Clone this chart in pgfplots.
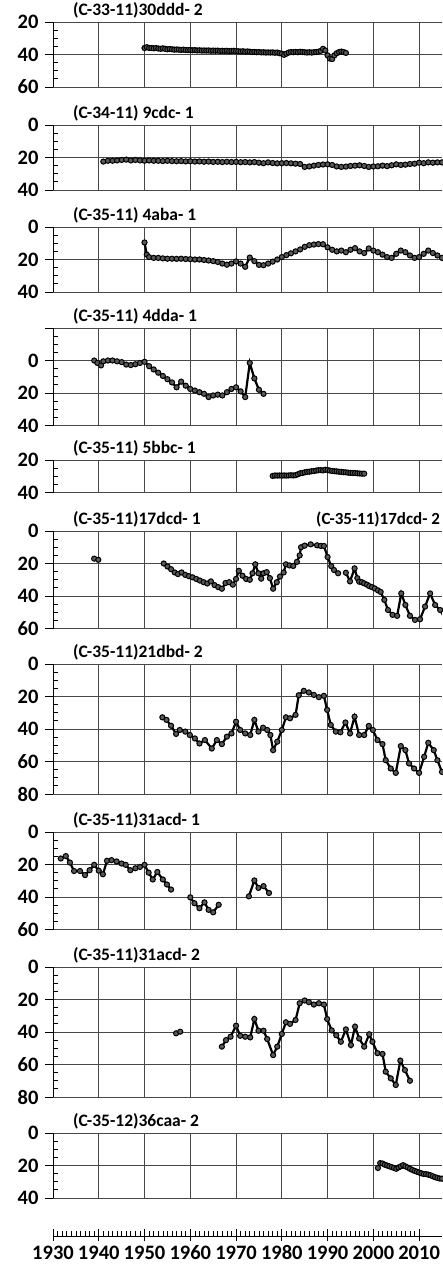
\documentclass[border=0pt]{standalone}
\usepackage{fontspec}
\setmainfont{Carlito}
\usepackage{pgfplots}
\pgfplotsset{compat=1.18}

\pgfplotsset{
 dat/.style={black, line width=2.2pt, mark=*, mark size=2.6pt, mark options={fill=black!65, draw=black, line width=1pt}},
 panel/.style={
  scale only axis, width=389pt,
  xmin=1930, xmax=2015, y dir=reverse,
  anchor=north west,
  axis lines*=left,
  x axis line style={draw=none},
  xtick={1930,1940,...,2010}, xticklabels={},
  major x tick style={draw=none},
  y axis line style={black, line width=0.9pt},
  grid=major,
  major grid style={black!72, line width=0.8pt},
  minor y tick num=3,
  tick align=inside,
  major tick length=8pt, minor tick length=5pt,
  major y tick style={xshift=-8pt, black, line width=0.8pt},
  minor y tick style={black, line width=0.8pt},
  yticklabel style={font=\fontsize{20.5}{20}\selectfont\bfseries, xshift=-11pt},
  /pgf/number format/assume math mode=true,
  every axis title/.style={at={(0,1)}, anchor=base west, xshift=20pt, yshift=7pt, inner sep=0pt, font=\fontsize{17.5}{17}\selectfont\bfseries},
 }
}

\begin{document}
\begin{tikzpicture}
\useasboundingbox (0,0) rectangle (442pt,-1272pt);

% Panel 1
\begin{axis}[panel, at={(53pt,-22pt)}, height=65pt, ymin=20, ymax=60, ytick={20,40,60}, title={(C-33-11)30ddd- 2}]
\addplot[dat] coordinates {(1950,36) (1950.5,35.5) (1951,36) (1951.5,36) (1952,36.2) (1952.5,36) (1953,36.3) (1953.5,36.5) (1954,36.2) (1954.5,36.5) (1955,36.8) (1955.5,36.6) (1956,36.8) (1956.5,37) (1957,36.9) (1957.5,37) (1958,37.2) (1958.5,37) (1959,37.2) (1959.5,37.3) (1960,37.2) (1960.5,37.4) (1961,37.3) (1961.5,37.5) (1962,37.4) (1962.5,37.6) (1963,37.5) (1963.5,37.6) (1964,37.5) (1964.5,37.7) (1965,37.6) (1965.5,37.7) (1966,37.6) (1966.5,37.8) (1967,37.7) (1967.5,37.8) (1968,37.7) (1968.5,37.9) (1969,37.8) (1969.5,37.7) (1970,37.9) (1970.5,38) (1971,38.2) (1971.5,38) (1972,38.3) (1972.5,38.1) (1973,38.3) (1973.5,38.5) (1974,38.4) (1974.5,38.6) (1975,38.5) (1975.5,38.7) (1976,38.6) (1976.5,38.8) (1977,38.7) (1977.5,38.8) (1978,38.7) (1978.5,38.9) (1979,38.8) (1979.5,39.2) (1980,39.5) (1980.5,40.2) (1981,39.5) (1981.5,38.8) (1982,38.5) (1982.5,38.6) (1983,38.4) (1983.5,38.6) (1984,38.3) (1984.5,38.5) (1985,38.6) (1985.5,38.8) (1986,38.6) (1986.5,38.8) (1987,38.6) (1987.5,38.5) (1988,38.3) (1988.5,37.8) (1989,36.5) (1989.5,37.5) (1990,40.5) (1990.5,42.5) (1991,42.8) (1991.5,40.5) (1992,39.2) (1992.5,38.5) (1993,38.2) (1993.5,38.5) (1994,39)};
\end{axis}

% Panel 2
\begin{axis}[panel, at={(53pt,-125pt)}, height=65pt, ymin=0, ymax=40, ytick={0,20,40}, title={(C-34-11) 9cdc- 1}]
\addplot[dat] coordinates {(1941,22.5) (1942,22) (1943,22) (1944,21.8) (1945,21.5) (1946,21.3) (1947,21.8) (1948,21.5) (1949,21.8) (1950,22) (1951,21.8) (1952,22) (1953,22) (1954,22.2) (1955,22) (1956,22.2) (1957,22.3) (1958,22.2) (1959,22.4) (1960,22.3) (1961,22.5) (1962,22.4) (1963,22.6) (1964,22.5) (1965,22.7) (1966,22.6) (1967,22.8) (1968,22.6) (1969,22.8) (1970,22.7) (1971,22.9) (1972,22.8) (1973,23) (1974,22.8) (1975,23.2) (1976,23.5) (1977,23) (1978,23.4) (1979,23.6) (1980,23.5) (1981,23.4) (1982,23.6) (1983,23.8) (1984,24) (1985,25.8) (1986,25.5) (1987,25) (1988,24.6) (1989,24.3) (1990,24.2) (1991,24.6) (1992,25.5) (1993,25.8) (1994,25.6) (1995,25.2) (1996,25) (1997,24.8) (1998,25.2) (1999,25.8) (2000,25.5) (2001,25.4) (2002,25) (2003,25.3) (2004,24.8) (2005,24.2) (2006,24.6) (2007,24.4) (2008,24) (2009,23.8) (2010,23.2) (2011,23.5) (2012,23) (2013,23.2) (2014,23) (2015,23)};
\end{axis}

% Panel 3
\begin{axis}[panel, at={(53pt,-227pt)}, height=65pt, ymin=0, ymax=40, ytick={0,20,40}, title={(C-35-11) 4aba- 1}]
\addplot[dat] coordinates {(1950,9.5) (1950.5,17) (1951,18.5) (1952,19) (1953,19) (1954,19.3) (1955,19.5) (1956,19.5) (1957,19.6) (1958,19.5) (1959,19.7) (1960,19.8) (1961,20) (1962,20) (1963,20.3) (1964,20.6) (1965,21) (1966,21.5) (1967,22.5) (1968,23.2) (1969,22.5) (1970,21.2) (1971,22.5) (1972,24.5) (1973,18.8) (1974,21) (1975,23.3) (1976,23.5) (1977,22.5) (1978,21.3) (1979,20) (1980,18.5) (1981,17.3) (1982,16.2) (1983,15) (1984,13.8) (1985,12.2) (1986,11.2) (1987,10.8) (1988,10.5) (1989,10.6) (1990,12.5) (1991,14) (1992,15) (1993,14.5) (1994,15.5) (1995,14) (1996,13) (1997,15) (1998,16) (1999,13.2) (2000,14.5) (2001,15.5) (2002,17) (2003,18.5) (2004,19) (2005,16.5) (2006,14.5) (2007,15.5) (2008,17.5) (2009,19) (2010,18.5) (2011,16.5) (2012,14.5) (2013,16) (2014,17.5) (2015,19)};
\end{axis}

% Panel 4
\begin{axis}[panel, at={(53pt,-328pt)}, height=97.5pt, ymin=-20, ymax=40, ytick={-20,0,20,40}, yticklabels={,0,20,40}, title={(C-35-11) 4dda- 1}]
\addplot[dat] coordinates {(1939,0) (1939.7,1.5) (1940.5,3) (1941,0.5) (1942,0) (1943,0) (1944,0.5) (1945,1) (1946,2.5) (1947,2.8) (1948,2.3) (1949,1.5) (1950,0.8) (1951,3.5) (1952,5.5) (1953,7.5) (1954,9.5) (1955,11.5) (1956,13.5) (1957,16.5) (1958,13) (1959,15.5) (1960,17.5) (1961,18.5) (1962,19.5) (1963,20.5) (1964,22.5) (1965,21.5) (1966,21) (1967,21.5) (1968,19.5) (1969,17.5) (1970,16.5) (1971,19) (1972,22.5) (1973,1.5) (1974,11) (1975,18) (1976,20.5)};
\end{axis}

% Panel 5
\begin{axis}[panel, at={(53pt,-460pt)}, height=32.5pt, ymin=20, ymax=40, ytick={20,40}, title={(C-35-11) 5bbc- 1}]
\addplot[dat] coordinates {(1978,29.8) (1978.5,29.5) (1979,29.6) (1979.5,29.5) (1980,29.6) (1980.5,29.5) (1981,29.6) (1981.5,29.5) (1982,29.4) (1982.5,29.5) (1983,29.3) (1983.5,28.8) (1984,28.2) (1984.5,28) (1985,27.6) (1985.5,27.3) (1986,27.2) (1986.5,26.9) (1987,26.8) (1987.5,26.5) (1988,26.3) (1988.5,26.2) (1989,26.4) (1989.5,26) (1990,26.2) (1990.5,26.5) (1991,26.7) (1991.5,26.9) (1992,27) (1992.5,27.2) (1993,27.3) (1993.5,27.5) (1994,27.6) (1994.5,27.8) (1995,27.9) (1995.5,28) (1996,28) (1996.5,28.2) (1997,28.3) (1997.5,28.4) (1998,28.4)};
\end{axis}

% Panel 6
\begin{axis}[panel, at={(53pt,-531pt)}, height=97.5pt, ymin=0, ymax=60, ytick={0,20,40,60}, title={(C-35-11)17dcd- 1}]
\addplot[dat] coordinates {(1939,17) (1939.9,17.7)};
\addplot[dat] coordinates {(1954.2,20) (1955,21.8) (1955.8,23.5) (1956.6,25.5) (1957.3,26.5) (1958.1,25.5) (1958.9,27) (1959.7,27.8) (1960.5,28.5) (1961.3,29.5) (1962.1,30.5) (1962.9,31.5) (1963.7,32.3) (1964.5,31) (1965.3,33.3) (1966.1,34.5) (1966.9,35.5) (1967.7,32) (1968.5,31.5) (1969.3,33) (1970,29.5) (1970.6,24.5) (1971.4,27.5) (1972.2,29.5) (1973,30) (1973.6,26) (1974.2,20.5) (1974.9,26) (1975.5,29.3) (1976,26) (1976.7,25.3) (1977.4,29) (1978.1,35.5) (1978.9,31.5) (1979.6,28) (1980.4,25.5) (1980.9,20.5) (1981.7,21.2) (1982.5,21.5) (1983.3,19) (1983.9,15) (1984.2,10) (1985,9) (1986.3,8.2) (1987.7,8.8) (1988.5,9.2) (1989.2,9.2) (1990,16) (1990.8,21.6) (1991.4,24) (1992.3,26)};
\addplot[dat] coordinates {(1994,25.7) (1994.9,31) (1995.9,23) (1996.5,29) (1996.9,31.2) (1997.5,31.5) (1998,32.2) (1998.6,33) (1999.1,33.9) (1999.7,34.5) (2000.3,35.3) (2001,36.5) (2001.6,37.5) (2002.4,42.4) (2003.2,48.6) (2004.2,51.6) (2005.2,52.2) (2006.1,38.4) (2007,45.5) (2008,52.2) (2009.1,54.7) (2010.2,54.3) (2011.3,46.5) (2012.4,38.4) (2013.5,45.5) (2014.6,48.6) (2015.3,52.2)};
\end{axis}
\node[anchor=base west, inner sep=0pt, font=\fontsize{17}{17}\selectfont\bfseries] at (316pt,-524pt) {(C-35-11)17dcd- 2};

% Panel 7
\begin{axis}[panel, at={(53pt,-664pt)}, height=130pt, ymin=0, ymax=80, ytick={0,20,40,60,80}, title={(C-35-11)21dbd- 2}]
\addplot[dat] coordinates {(1953.9,32.8) (1954.8,34.4) (1955.8,38) (1956.9,43) (1957.7,40.6) (1958.9,41.6) (1959.9,43.7) (1961,45.8) (1962,48.9) (1963.2,46.8) (1964.7,52) (1965.8,46.8) (1966.9,49.3) (1968,44.7) (1969,42.7) (1970,35.5) (1970.9,40.6) (1972,42.7) (1973.1,43.7) (1974,34.4) (1974.9,41.6) (1975.9,39.2) (1976.8,40.6) (1977.5,43.7) (1978.1,53) (1979,47.8) (1980,40.6) (1980.9,32.8) (1981.8,33.4) (1983,31.3) (1983.7,19.2) (1984.8,16.5) (1985.9,17.5) (1987,19) (1988.1,20.4) (1989.2,19.6) (1989.9,28.2) (1990.7,37.5) (1991.8,41.6) (1992.8,42) (1993.9,36) (1994.9,42.7) (1995.9,32.4) (1996.9,43.7) (1998,43.7) (1999,38.1) (1999.9,40.6) (2000.9,46.8) (2002,49.3) (2002.7,59.2) (2003.8,64.3) (2004.9,67) (2006,50.5) (2007,53) (2007.8,61.2) (2008.9,64.3) (2010,67) (2011.1,57.1) (2012,48.5) (2013.2,53) (2014,59.2) (2015,66.4)};
\end{axis}

% Panel 8
\begin{axis}[panel, at={(53pt,-832pt)}, height=97.5pt, ymin=0, ymax=60, ytick={0,20,40,60}, title={(C-35-11)31acd- 1}]
\addplot[dat] coordinates {(1931.7,16.3) (1932.8,14.8) (1933.7,18.8) (1934.6,24) (1935.9,24) (1937,26.5) (1938,23.5) (1939,20.2) (1940,23.8) (1940.9,26) (1941.8,17.7) (1942.8,17.3) (1943.9,18.1) (1945,19.4) (1945.9,20.2) (1946.9,23.5) (1948,22.3) (1949,21.5) (1950,20.2) (1950.9,25) (1951.8,29.2) (1952.8,24.6) (1954,29.2) (1954.9,32.3) (1955.8,35.4)};
\addplot[dat] coordinates {(1960,40.2) (1960.9,43.8) (1962,46.9) (1963.1,43.3) (1964,47.9) (1965,49.4) (1966.2,44.8)};
\addplot[dat] coordinates {(1972.8,39.6) (1974,29.8) (1974.9,34.4) (1976,33.3) (1977.2,37.5)};
\end{axis}

% Panel 9
\begin{axis}[panel, at={(53pt,-967pt)}, height=130pt, ymin=0, ymax=80, ytick={0,20,40,60,80}, title={(C-35-11)31acd- 2}]
\addplot[dat] coordinates {(1956.9,40.8) (1957.8,39.8)};
\addplot[dat] coordinates {(1966.9,49) (1967.8,45) (1968.8,42.9) (1970,36.1) (1970.9,42.3) (1972,42.9) (1973.1,43.3) (1974,32) (1974.9,39.2) (1976,39.2) (1976.8,44.3) (1978.1,54.2) (1979,49) (1980,41.2) (1980.9,34) (1981.8,35) (1983,32.6) (1983.9,22.3) (1985,20.6) (1985.9,21.6) (1987,23.1) (1988.1,22.3) (1989.2,23.1) (1989.9,32) (1990.9,39) (1991.9,42) (1992.9,46) (1994,38.4) (1995.1,48) (1996,36.7) (1996.9,44) (1998,49) (1999.1,41.4) (1999.8,46) (2000.9,53) (2002,53.5) (2002.7,64.4) (2003.8,68.5) (2004.9,72.6) (2005.9,57.6) (2006.9,63.4) (2008,70)};
\end{axis}

% Panel 10
\begin{axis}[panel, at={(53pt,-1133pt)}, height=65pt, ymin=0, ymax=40, ytick={0,20,40}, title={(C-35-12)36caa- 2}]
\addplot[dat] coordinates {(2001,21.5) (2001.5,18.5) (2002,18.8) (2002.5,19.5) (2003,20) (2003.5,20.5) (2004,21) (2004.5,21.5) (2005,22) (2005.5,21.2) (2006,20.5) (2006.5,19.8) (2007,20.5) (2007.5,21.2) (2008,22) (2008.5,22.7) (2009,23.3) (2009.5,23.8) (2010,24.3) (2010.5,24.8) (2011,25.2) (2011.5,25.3) (2012,25.6) (2012.5,26) (2013,26.6) (2013.5,27.2) (2014,27.6) (2014.5,28) (2015,28.1)};
\end{axis}

% Bottom time axis
\begin{axis}[at={(53pt,-1236pt)}, anchor=south west, scale only axis, width=389pt, height=10pt,
  xmin=1930, xmax=2015, ymin=0, ymax=1, hide y axis, axis x line*=bottom,
  xtick={1930,1940,...,2010}, minor x tick num=9, tick align=inside,
  major tick length=12pt, minor tick length=5pt,
  major x tick style={yshift=-5pt, black, line width=0.8pt},
  minor x tick style={black, line width=0.6pt},
  x axis line style={black, line width=0.8pt},
  xticklabel style={font=\fontsize{20.5}{20}\selectfont\bfseries, anchor=base, yshift=-23pt},
  /pgf/number format/assume math mode=true, /pgf/number format/1000 sep={}]
\addplot[draw=none] coordinates {(1930,0.5)};
\end{axis}
\end{tikzpicture}
\end{document}
